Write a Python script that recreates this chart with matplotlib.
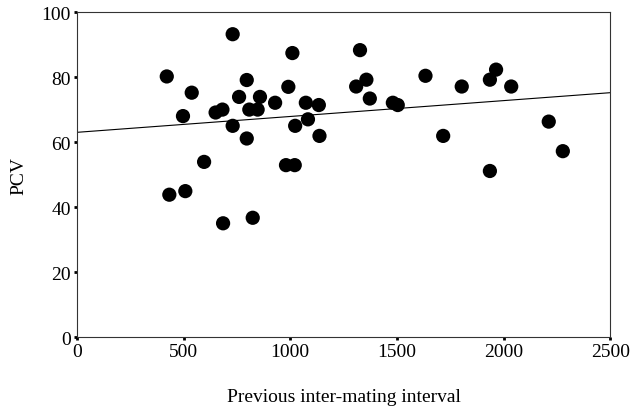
import numpy as np
import matplotlib
matplotlib.use("Agg")
import matplotlib.pyplot as plt

interval = [421, 497, 538, 596, 650, 682, 730, 730, 760, 796, 796, 808, 847, 858,
            929, 991, 1010, 980, 1021, 1023, 1073, 1083, 1134, 1137,
            433, 508, 685, 824,
            1327, 1309, 1357, 1373, 1481, 1504, 1634, 1717, 1804, 1936, 1965,
            1936, 2036, 2212, 2278]
pcv = [80.2, 68.0, 75.2, 53.9, 69.1, 70.0, 93.2, 65.0, 73.9, 79.1, 61.1, 70.0, 70.0, 73.9,
       72.1, 77.0, 87.4, 52.9, 52.9, 65.0, 72.1, 67.0, 71.4, 61.9,
       43.8, 44.9, 35.0, 36.7,
       88.3, 77.1, 79.2, 73.4, 72.1, 71.4, 80.4, 61.9, 77.1, 79.2, 82.3,
       51.1, 77.1, 66.3, 57.2]

line_x = [0, 2500]
line_y = [63.0, 75.2]

x_ticks = [0, 500, 1000, 1500, 2000, 2500]
y_ticks = [0, 20, 40, 60, 80, 100]

plt.rcParams['font.family'] = ['Liberation Serif', 'DejaVu Serif']

fig = plt.figure(figsize=(6.31, 4.10), dpi=100)
ax = fig.add_axes([0.122, 0.1756, 0.845, 0.7924])

ax.scatter(interval, pcv, s=105, color='black', edgecolors='none', zorder=3)
ax.plot(line_x, line_y, color='black', linewidth=0.8, zorder=2)

ax.set_xlim(0, 2500)
ax.set_ylim(0, 100)
ax.set_xticks(x_ticks)
ax.set_yticks(y_ticks)
ax.tick_params(direction='out', length=2.5, width=2, labelsize=14, pad=2, colors='black')
for sp in ax.spines.values():
    sp.set_linewidth(0.8)
    sp.set_color('#333333')

ax.set_xlabel('Previous inter-mating interval', fontsize=14, labelpad=20)
ax.set_ylabel('PCV', fontsize=14, labelpad=10)

fig.savefig('out.png', dpi=100)
